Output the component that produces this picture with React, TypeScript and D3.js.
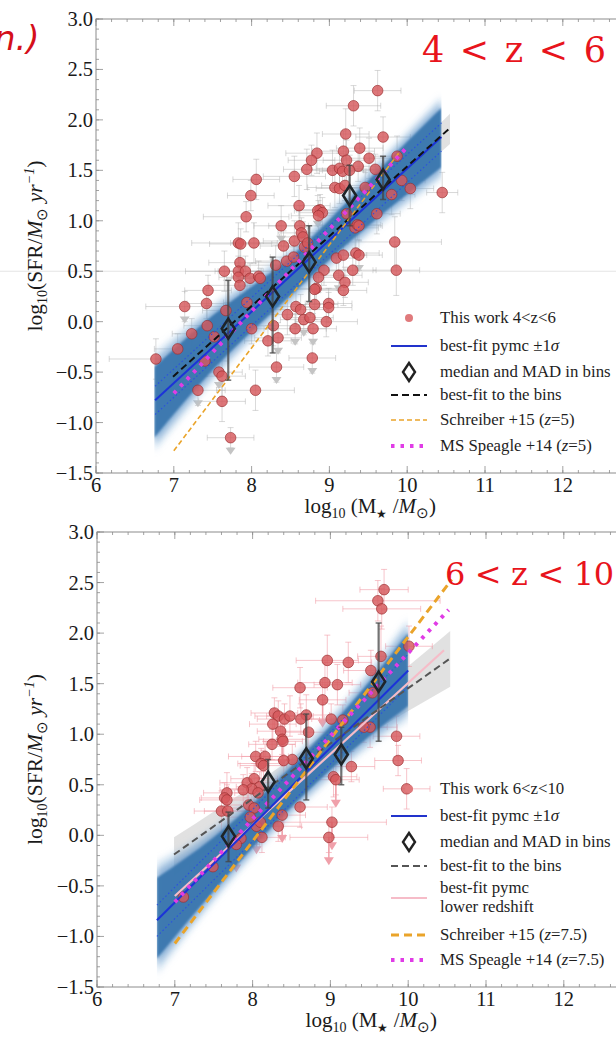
import React from 'react';
import * as d3 from 'd3';

// ---------- data ----------
// points: [log M*, log SFR, x-error, y-error, upper-limit flag]
const topPoints: number[][] = [
  [8.06, 1.41, 0.3, 0.2, 0], [7.99, 1.25, 0.3, 0.15, 0], [7.93, 1.04, 0.55, 0.15, 0], [7.83, 0.78, 0.6, 0.2, 0],
  [7.86, 0.77, 0.4, 0.15, 0], [8.03, 0.78, 0.3, 0.2, 0], [7.85, 0.585, 0.4, 0.15, 0], [7.65, 0.5, 0.5, 0.2, 0],
  [7.83, 0.5, 0.3, 0.15, 0], [7.92, 0.5, 0.35, 0.15, 0], [7.83, 0.44, 0.25, 0.1, 0], [7.98, 0.43, 0.3, 0.15, 0],
  [8.09, 0.45, 0.35, 0.15, 0], [8.11, 0.43, 0.3, 0.1, 0], [7.85, 0.36, 0.4, 0.2, 0], [7.44, 0.31, 0.3, 0.15, 0],
  [7.42, 0.18, 0.25, 0.15, 0], [7.14, 0.15, 0.5, 0.15, 1], [7.94, 0.19, 0.3, 0.2, 0], [7.67, 0.11, 0.3, 0.3, 0],
  [7.43, -0.04, 0.3, 0.2, 0], [7.23, -0.12, 0.25, 0.15, 0], [7.52, -0.15, 0.3, 0.15, 0], [8.0, -0.07, 0.3, 0.15, 0],
  [7.05, -0.27, 0.3, 0.15, 0], [6.77, -0.37, 0.6, 0.2, 0], [7.4, -0.39, 0.3, 0.15, 0], [7.58, -0.5, 0.3, 0.15, 1],
  [7.62, -0.54, 0.3, 0.2, 0], [7.31, -0.68, 0.35, 0.15, 1], [7.62, -0.79, 0.3, 0.2, 0], [8.05, -0.68, 0.5, 0.2, 0],
  [7.73, -1.15, 0.3, 0.1, 1], [8.31, 0.56, 0.4, 0.2, 0], [8.45, 0.6, 0.4, 0.15, 0], [8.54, 0.64, 0.3, 0.15, 0],
  [8.55, 1.44, 0.4, 0.2, 0], [8.71, 1.51, 0.3, 0.2, 0], [8.61, 1.15, 0.4, 0.2, 0], [8.38, 0.95, 0.35, 0.2, 1],
  [8.62, 0.95, 0.4, 0.2, 0], [8.41, 0.75, 0.3, 0.15, 0], [8.55, 0.8, 0.4, 0.2, 0], [8.64, 0.88, 0.3, 0.15, 0],
  [8.66, 0.84, 0.3, 0.15, 0], [8.68, 0.74, 0.3, 0.15, 0], [8.57, 0.15, 0.3, 0.2, 0], [8.63, 0.12, 0.35, 0.15, 0],
  [8.46, 0.07, 0.3, 0.2, 0], [8.67, 0.02, 0.3, 0.15, 1], [8.56, -0.07, 0.4, 0.15, 1], [8.28, -0.04, 0.3, 0.2, 0],
  [8.21, -0.19, 0.3, 0.15, 0], [8.34, -0.16, 0.3, 0.15, 1], [8.32, -0.45, 0.35, 0.15, 1],
  [9.62, 2.29, 0.3, 0.2, 0], [9.31, 2.14, 0.35, 0.2, 0], [9.21, 1.86, 0.3, 0.25, 0], [9.69, 1.83, 0.35, 0.2, 0],
  [9.39, 1.72, 0.3, 0.2, 0], [9.18, 1.69, 0.4, 0.2, 0], [8.84, 1.67, 0.4, 0.2, 0], [8.77, 1.6, 0.3, 0.15, 0],
  [9.22, 1.6, 0.3, 0.2, 0], [9.51, 1.62, 0.35, 0.2, 0], [9.37, 1.54, 0.3, 0.15, 0], [9.04, 1.5, 0.4, 0.2, 0],
  [9.13, 1.52, 0.3, 0.15, 0], [9.17, 1.49, 0.3, 0.15, 0], [9.26, 1.5, 0.35, 0.15, 0], [9.87, 1.64, 0.3, 0.2, 0],
  [9.93, 1.4, 0.3, 0.2, 0], [9.07, 1.33, 0.35, 0.2, 0], [9.13, 1.32, 0.3, 0.15, 0], [9.2, 1.35, 0.3, 0.15, 0],
  [10.04, 1.32, 0.3, 0.2, 0], [10.45, 1.28, 0.2, 0.2, 0], [9.8, 1.26, 0.3, 0.2, 0], [8.88, 1.11, 0.3, 0.15, 0],
  [8.85, 1.1, 0.3, 0.15, 1], [8.91, 1.08, 0.3, 0.15, 0], [8.86, 1.05, 0.35, 0.15, 0], [9.61, 1.07, 0.3, 0.2, 0],
  [9.33, 0.93, 0.3, 0.2, 0], [9.36, 0.96, 0.3, 0.15, 0], [9.38, 0.95, 0.3, 0.15, 0], [8.72, 0.78, 0.3, 0.15, 0],
  [9.84, 0.79, 0.6, 0.25, 0], [9.09, 0.63, 0.3, 0.15, 0], [9.18, 0.66, 0.3, 0.15, 0], [9.34, 0.68, 0.3, 0.2, 0],
  [9.38, 0.66, 0.3, 0.15, 1], [8.93, 0.51, 0.3, 0.15, 0], [9.3, 0.51, 0.3, 0.15, 0], [9.86, 0.51, 0.3, 0.25, 0],
  [9.12, 0.46, 0.3, 0.15, 1], [8.86, 0.44, 0.3, 0.15, 0], [9.2, 0.39, 0.3, 0.15, 0], [9.18, 0.31, 0.3, 0.15, 0],
  [8.83, 0.33, 0.3, 0.15, 0], [8.81, 0.32, 0.3, 0.15, 0], [8.99, 0.18, 0.3, 0.15, 0], [8.99, 0.14, 0.3, 0.15, 0],
  [8.81, 0.17, 0.3, 0.15, 0], [8.96, 0.0, 0.4, 0.15, 0], [8.75, 0.04, 0.3, 0.15, 0], [8.79, -0.07, 0.3, 0.15, 1],
  [8.78, -0.36, 0.3, 0.15, 1], [9.59, 1.51, 0.3, 0.15, 0], [9.46, 1.33, 0.3, 0.15, 0], [9.22, 1.07, 0.3, 0.15, 0],
];

const bottomPoints: number[][] = [
  [8.61, 1.46, 0.35, 0.2, 0], [8.28, 1.21, 0.3, 0.15, 0], [8.33, 1.18, 0.3, 0.15, 0], [8.41, 1.15, 0.35, 0.15, 0],
  [8.48, 1.18, 0.3, 0.2, 0], [8.69, 1.19, 0.3, 0.2, 0], [8.26, 1.1, 0.3, 0.15, 0], [8.36, 1.03, 0.3, 0.15, 0],
  [8.38, 0.95, 0.3, 0.15, 1], [8.39, 0.93, 0.25, 0.15, 0], [8.25, 0.9, 0.3, 0.15, 0], [8.04, 0.78, 0.35, 0.15, 0],
  [8.16, 0.78, 0.3, 0.15, 0], [8.11, 0.71, 0.3, 0.15, 0], [8.14, 0.69, 0.3, 0.15, 0], [7.93, 0.52, 0.35, 0.15, 0],
  [8.02, 0.56, 0.3, 0.15, 0], [8.09, 0.48, 0.3, 0.15, 0], [7.99, 0.46, 0.3, 0.15, 0], [7.88, 0.45, 0.3, 0.15, 0],
  [8.07, 0.42, 0.3, 0.15, 0], [7.67, 0.42, 0.3, 0.2, 0], [7.64, 0.37, 0.3, 0.15, 0], [7.67, 0.35, 0.35, 0.15, 0],
  [7.6, 0.24, 0.35, 0.2, 0], [7.68, 0.24, 0.3, 0.15, 0], [7.95, 0.3, 0.3, 0.15, 0], [8.02, 0.27, 0.3, 0.15, 0],
  [8.05, 0.09, 0.3, 0.15, 1], [8.1, 0.13, 0.3, 0.15, 0], [7.97, 0.18, 0.3, 0.15, 0], [7.85, -0.03, 0.3, 0.2, 0],
  [7.79, -0.09, 0.3, 0.15, 1], [7.49, -0.31, 0.3, 0.15, 0], [7.11, -0.61, 0.3, 0.15, 0], [8.61, 0.28, 0.35, 0.2, 0],
  [8.38, 0.2, 0.3, 0.2, 1], [8.51, 0.75, 0.3, 0.15, 1], [8.33, 0.09, 0.3, 0.15, 0], [8.4, 0.74, 0.3, 0.15, 0],
  [8.12, -0.02, 0.3, 0.15, 0],
  [9.69, 2.43, 0.31, 0.2, 0], [9.61, 2.32, 0.8, 0.2, 0], [9.66, 2.24, 0.5, 0.2, 0], [9.65, 1.77, 0.3, 0.3, 0],
  [10.01, 1.87, 0.3, 0.2, 0], [9.52, 1.63, 0.35, 0.2, 0], [8.96, 1.73, 0.4, 0.25, 0], [9.23, 1.71, 0.3, 0.2, 0],
  [8.93, 1.51, 0.35, 0.2, 0], [9.09, 1.49, 0.3, 0.2, 0], [8.9, 1.34, 0.3, 0.2, 1], [9.01, 1.15, 0.35, 0.15, 0],
  [9.16, 1.14, 0.3, 0.15, 0], [8.62, 1.15, 0.3, 0.15, 0], [8.72, 1.02, 0.3, 0.15, 0], [9.51, 1.07, 0.35, 0.2, 0],
  [9.43, 1.07, 0.3, 0.15, 0], [9.85, 0.98, 0.3, 0.2, 0], [9.87, 0.74, 0.3, 0.15, 0], [9.27, 0.68, 0.3, 0.15, 0],
  [9.04, 0.58, 0.3, 0.2, 0], [9.07, 0.55, 0.3, 0.15, 1], [9.98, 0.46, 0.3, 0.2, 0], [9.02, 0.13, 0.7, 0.15, 1],
  [8.98, -0.02, 0.5, 0.15, 1], [9.54, 1.41, 0.3, 0.2, 0],
];

// median and MAD in bins: [x, median, low, high]
const topBins: number[][] = [
  [7.7, -0.07, -0.58, 0.41], [8.27, 0.25, -0.31, 0.64], [8.74, 0.59, 0.2, 0.95], [9.26, 1.25, 0.95, 1.55], [9.69, 1.41, 1.21, 1.64],
];
const bottomBins: number[][] = [
  [7.69, -0.01, -0.26, 0.23], [8.2, 0.53, 0.27, 0.75], [8.69, 0.76, 0.35, 1.2], [9.14, 0.8, 0.5, 1.07], [9.62, 1.52, 0.93, 2.1],
];

// straight relations: [[x0, y0], [x1, y1]]
const topFit = [[6.76, -0.78], [10.44, 1.83]];
const topFitUpper = [[6.76, -0.64], [10.44, 1.97]];
const topFitLower = [[6.76, -0.92], [10.44, 1.69]];
const topBinFit = [[6.99, -0.545], [10.55, 1.92]];
const topSchreiber = [[7.0, -1.28], [9.9, 1.68]];
const topSpeagle = [[7.0, -0.71], [10.0, 1.73]];

const bottomFit = [[6.77, -0.84], [10.0, 1.63]];
const bottomFitUpper = [[6.77, -0.69], [10.0, 1.79]];
const bottomFitLower = [[6.77, -1.0], [10.0, 1.47]];
const bottomBinFit = [[6.99, -0.19], [10.54, 1.75]];
const bottomLowerZ = [[7.0, -0.6], [10.46, 1.83]];
const bottomSchreiber = [[7.0, -1.07], [10.56, 2.53]];
const bottomSpeagle = [[7.0, -0.66], [10.52, 2.23]];

// posterior bands
const topBandX = [6.75, 7.5, 8.5, 9.5, 10.44];
const topBandLo = [-1.15, -0.48, 0.26, 0.95, 1.53];
const topBandHi = [-0.45, 0.06, 0.64, 1.4, 2.12];
const topBinBandX = [6.99, 8.5, 10.55];
const topBinBandLo = [-0.7, 0.36, 1.76];
const topBinBandHi = [-0.4, 0.56, 2.06];

const bottomBandX = [6.77, 7.5, 8.5, 9.5, 10.0];
const bottomBandLo = [-1.22, -0.55, 0.28, 0.98, 1.28];
const bottomBandHi = [-0.42, -0.02, 0.68, 1.52, 2.0];
const bottomBinBandX = [6.99, 8.5, 10.54];
const bottomBinBandLo = [-0.4, 0.5, 1.47];
const bottomBinBandHi = [-0.02, 0.76, 2.02];

const yTickValues = [-1.5, -1.0, -0.5, 0.0, 0.5, 1.0, 1.5, 2.0, 2.5, 3.0];
const xTickValues = [6, 7, 8, 9, 10, 11, 12, 13];
const xTickLabels = ['6', '7', '8', '9', '10', '11', '12', ''];

// ---------- drawing ----------
const SERIF = '"Liberation Serif", "Times New Roman", serif';

type Cfg = {
  id: string;
  top: number;
  bottom: number;
  left: number;
  points: number[][];
  bins: number[][];
  fit: number[][];
  fitU: number[][];
  fitL: number[][];
  binFit: number[][];
  lowerZ?: number[][];
  schreiber: number[][];
  speagle: number[][];
  bandX: number[];
  bandLo: number[];
  bandHi: number[];
  binBandX: number[];
  binBandLo: number[];
  binBandHi: number[];
  errColor: string;
  binLineColor: string;
  schWidth: number;
  schDash: string;
  zLabel: string;
  zX: number;
  zY: number;
  zLen: number;
  zSize: number;
  legendY: number[];
  legendName: string;
  schName: string;
  spName: string;
};

function Panel({ c }: { c: Cfg }) {
  const x = d3.scaleLinear().domain([6, 13]).range([c.left, c.left + 7 * 77.8]);
  const y = d3.scaleLinear().domain([-1.5, 3]).range([c.bottom, c.top]);
  const x0 = x(6), x1 = x(13), y0 = y(-1.5), y1 = y(3);
  const seg = (p: number[][]) => ({ x1: x(p[0][0]), y1: y(p[0][1]), x2: x(p[1][0]), y2: y(p[1][1]) });

  const bandArea = (f: number) =>
    d3.area<number>()
      .x((_, i) => x(c.bandX[i]))
      .y0((_, i) => y((c.bandLo[i] + c.bandHi[i]) / 2 - ((c.bandHi[i] - c.bandLo[i]) / 2) * f))
      .y1((_, i) => y((c.bandLo[i] + c.bandHi[i]) / 2 + ((c.bandHi[i] - c.bandLo[i]) / 2) * f))
      .curve(d3.curveMonotoneX)(c.bandX) || '';
  const binBand = d3.area<number>()
    .x((_, i) => x(c.binBandX[i]))
    .y0((_, i) => y(c.binBandLo[i]))
    .y1((_, i) => y(c.binBandHi[i]))
    .curve(d3.curveMonotoneX)(c.binBandX) || '';

  const yMinor = d3.range(-15, 31, 1).map((v) => v / 10);
  const xMinor = d3.range(30, 66, 1).map((v) => v / 5);
  const fmt = d3.format('.1f');
  const bx0 = x(c.bandX[0]), bx1 = x(c.bandX[c.bandX.length - 1]);
  const L = c.legendY;
  const lx0 = 391, lx1 = 427, lcx = 409, ltx = 440;
  const isTop = c.id === 'top';

  return (
    <g>
      <defs>
        <clipPath id={`plot-${c.id}`}>
          <rect x={x0} y={y1} width={x1 - x0} height={y0 - y1} />
        </clipPath>
        <clipPath id={`band-${c.id}`}>
          <rect x={bx0} y={y1} width={bx1 - bx0} height={y0 - y1} />
        </clipPath>
        <filter id={`blur-${c.id}`} x="-20%" y="-20%" width="140%" height="140%">
          <feGaussianBlur stdDeviation="3" />
        </filter>
        <filter id={`blur2-${c.id}`} x="-20%" y="-20%" width="140%" height="140%">
          <feGaussianBlur stdDeviation="1" />
        </filter>
      </defs>

      {isTop && <line x1={0} x2={616} y1={y(0.5)} y2={y(0.5)} stroke="#e4e4e4" strokeWidth={1} />}

      <g clipPath={`url(#plot-${c.id})`}>
        <path d={binBand} fill="#c8c8c8" fillOpacity={0.55} />
        <g stroke={c.errColor} strokeWidth={1} fill="none">
          {c.points.map((p, i) => (
            <g key={i}>
              <line x1={x(p[0] - p[2])} x2={x(p[0] + p[2])} y1={y(p[1])} y2={y(p[1])} />
              <line x1={x(p[0])} x2={x(p[0])} y1={y(p[1] - p[3])} y2={y(p[1] + p[3])} />
              <line x1={x(p[0] - p[2])} x2={x(p[0] - p[2])} y1={y(p[1]) - 3} y2={y(p[1]) + 3} />
              <line x1={x(p[0] + p[2])} x2={x(p[0] + p[2])} y1={y(p[1]) - 3} y2={y(p[1]) + 3} />
              <line x1={x(p[0]) - 3} x2={x(p[0]) + 3} y1={y(p[1] - p[3])} y2={y(p[1] - p[3])} />
              <line x1={x(p[0]) - 3} x2={x(p[0]) + 3} y1={y(p[1] + p[3])} y2={y(p[1] + p[3])} />
            </g>
          ))}
        </g>
        {c.points.filter((p) => p[4] === 1).map((p, i) => {
          const px = x(p[0]), py = y(p[1]);
          return isTop ? (
            <path key={i} d={`M${px - 5},${py + 10}L${px + 5},${py + 10}L${px},${py + 17}Z`} fill="#c4c4c4" />
          ) : (
            <g key={i} stroke="#f0a0aa" fill="#f0a0aa">
              <line x1={px} x2={px} y1={py} y2={py + 24} strokeWidth={1.5} />
              <path d={`M${px - 5},${py + 20}L${px + 5},${py + 20}L${px},${py + 28}Z`} stroke="none" />
            </g>
          );
        })}
        <g clipPath={`url(#band-${c.id})`}>
          <path d={bandArea(1.4)} fill="#9cc0e0" fillOpacity={0.4} filter={`url(#blur-${c.id})`} />
          <path d={bandArea(1.18)} fill="#5a90c4" fillOpacity={0.6} filter={`url(#blur-${c.id})`} />
          <path d={bandArea(1.0)} fill="#3a76ae" fillOpacity={0.95} filter={`url(#blur2-${c.id})`} />
        </g>
        {c.points.map((p, i) => (
          <circle key={i} cx={x(p[0])} cy={y(p[1])} r={5.3} fill="#d6585c" fillOpacity={0.82}
            stroke="#9a2e30" strokeOpacity={0.75} strokeWidth={0.9} />
        ))}
        <line {...seg(c.fitU)} stroke="#2a4fe0" strokeWidth={1.1} strokeDasharray="1.5,2.5" />
        <line {...seg(c.fitL)} stroke="#2a4fe0" strokeWidth={1.1} strokeDasharray="1.5,2.5" />
        {c.lowerZ && <line {...seg(c.lowerZ)} stroke="#f6bcc8" strokeWidth={2.2} />}
        <line {...seg(c.fit)} stroke="#1c33d8" strokeWidth={2} />
        <line {...seg(c.binFit)} stroke={c.binLineColor} strokeWidth={2} strokeDasharray="7,4" />
        <line {...seg(c.schreiber)} stroke="#eaa42a" strokeWidth={c.schWidth} strokeDasharray={c.schDash} />
        <line {...seg(c.speagle)} stroke="#e03ce6" strokeWidth={4} strokeDasharray="3.5,6" />
        {c.bins.map((b, i) => (
          <g key={i}>
            <line x1={x(b[0])} x2={x(b[0])} y1={y(b[2])} y2={y(b[3])} stroke="#444" strokeOpacity={0.75} strokeWidth={2.2} />
            <line x1={x(b[0]) - 3} x2={x(b[0]) + 3} y1={y(b[2])} y2={y(b[2])} stroke="#444" strokeOpacity={0.75} strokeWidth={1.5} />
            <line x1={x(b[0]) - 3} x2={x(b[0]) + 3} y1={y(b[3])} y2={y(b[3])} stroke="#444" strokeOpacity={0.75} strokeWidth={1.5} />
            <path d={`M${x(b[0])},${y(b[1]) - 10}L${x(b[0]) + 6.5},${y(b[1])}L${x(b[0])},${y(b[1]) + 10}L${x(b[0]) - 6.5},${y(b[1])}Z`}
              fill="none" stroke="#1e2428" strokeWidth={2.6} strokeLinejoin="miter" />
          </g>
        ))}
      </g>

      <rect x={x0} y={y1} width={x1 - x0} height={y0 - y1} fill="none" stroke="#8c8c8c" strokeWidth={1} />
      <g stroke="#8c8c8c" strokeWidth={0.8}>
        {yMinor.map((v, i) => (
          <line key={'ym' + i} x1={x0} x2={x0 + 3} y1={y(v)} y2={y(v)} />
        ))}
        {yTickValues.map((v, i) => (
          <line key={'yM' + i} x1={x0} x2={x0 + 7} y1={y(v)} y2={y(v)} />
        ))}
        {xMinor.map((v, i) => (
          <g key={'xm' + i}>
            <line x1={x(v)} x2={x(v)} y1={y0} y2={y0 - 3} />
            <line x1={x(v)} x2={x(v)} y1={y1} y2={y1 + 3} />
          </g>
        ))}
        {xTickValues.map((v, i) => (
          <g key={'xM' + i}>
            <line x1={x(v)} x2={x(v)} y1={y0} y2={y0 - 7} />
            <line x1={x(v)} x2={x(v)} y1={y1} y2={y1 + 7} />
          </g>
        ))}
      </g>
      <g fontFamily={SERIF} fontSize={20.5} fill="#1a1a1a">
        {yTickValues.map((v, i) => (
          <text key={'yl' + i} x={x0 - 3} y={y(v) + 7} textAnchor="end">{fmt(v)}</text>
        ))}
        {xTickValues.map((v, i) => xTickLabels[i] ? (
          <text key={'xl' + i} x={x(v)} y={y0 + 19} textAnchor="middle">{xTickLabels[i]}</text>
        ) : null)}
        <text x={(x0 + x1) / 2 + 2} y={y0 + 40} textAnchor="middle" fontSize={21}>
          log<tspan fontSize={14} dy={5}>10</tspan>
          <tspan dy={-5}> (M</tspan><tspan fontSize={12} dy={5}>★</tspan>
          <tspan dy={-5}> /</tspan><tspan fontStyle="italic">M</tspan>
          <tspan fontSize={15} dy={5}>⊙</tspan><tspan dy={-5}>)</tspan>
        </text>
        <text transform={`translate(42,${(y0 + y1) / 2}) rotate(-90)`} textAnchor="middle" fontSize={21.5}>
          log<tspan fontSize={14} dy={5}>10</tspan>
          <tspan dy={-5}>(SFR/</tspan><tspan fontStyle="italic">M</tspan>
          <tspan fontSize={15} dy={5}>⊙</tspan>
          <tspan dy={-5} fontStyle="italic"> yr</tspan>
          <tspan fontSize={14} dy={-8} fontStyle="italic">−1</tspan>
          <tspan dy={8}>)</tspan>
        </text>
      </g>

      <text x={c.zX} y={c.zY} fontFamily='"DejaVu Serif", serif' fontSize={c.zSize} fill="#e8141c"
        xmlSpace="preserve" textLength={c.zLen} lengthAdjust="spacing">
        {c.zLabel}
      </text>

      <g fontFamily={SERIF} fontSize={16.8} fill="#1e1e1e">
        <circle cx={lcx} cy={L[0]} r={4} fill="#e07a7c" />
        <text x={ltx} y={L[0] + 5}>{c.legendName}</text>
        <line x1={lx0} x2={lx1} y1={L[1]} y2={L[1]} stroke="#2233cc" strokeWidth={2.2} />
        <text x={ltx} y={L[1] + 5}>best-fit pymc ±1<tspan fontStyle="italic">σ</tspan></text>
        <path d={`M${lcx},${L[2] - 9}L${lcx + 6},${L[2]}L${lcx},${L[2] + 9}L${lcx - 6},${L[2]}Z`} fill="none" stroke="#222" strokeWidth={2.4} />
        <text x={ltx} y={L[2] + 5}>median and MAD in bins</text>
        <line x1={lx0} x2={lx1} y1={L[3]} y2={L[3]} stroke={c.binLineColor} strokeWidth={2} strokeDasharray="7,4" />
        <text x={ltx} y={L[3] + 5}>best-fit to the bins</text>
        {c.lowerZ ? (
          <g>
            <line x1={lx0} x2={lx1} y1={L[4]} y2={L[4]} stroke="#f6bcc8" strokeWidth={2.2} />
            <text x={ltx} y={L[4] - 5}>best-fit pymc</text>
            <text x={ltx} y={L[4] + 14}>lower redshift</text>
          </g>
        ) : null}
        <line x1={lx0} x2={lx1} y1={L[5]} y2={L[5]} stroke="#eaa42a" strokeWidth={c.schWidth} strokeDasharray={c.schDash} />
        <text x={ltx} y={L[5] + 5}>Schreiber +15 (<tspan fontStyle="italic">z</tspan>{c.schName})</text>
        <line x1={lx0} x2={lx1} y1={L[6]} y2={L[6]} stroke="#e03ce6" strokeWidth={4} strokeDasharray="3.5,6" />
        <text x={ltx} y={L[6] + 5}>MS Speagle +14 (<tspan fontStyle="italic">z</tspan>{c.spName})</text>
      </g>
    </g>
  );
}

const topCfg: Cfg = {
  id: 'top', top: 19, bottom: 473, left: 96,
  points: topPoints, bins: topBins, fit: topFit, fitU: topFitUpper, fitL: topFitLower,
  binFit: topBinFit, schreiber: topSchreiber, speagle: topSpeagle,
  bandX: topBandX, bandLo: topBandLo, bandHi: topBandHi,
  binBandX: topBinBandX, binBandLo: topBinBandLo, binBandHi: topBinBandHi,
  errColor: 'rgba(170,170,170,0.45)', binLineColor: '#111', schWidth: 1.6, schDash: '5,3',
  zLabel: '4 < z < 6', zX: 422, zY: 62, zLen: 184, zSize: 35,
  legendY: [318, 346, 372, 395, 0, 420, 446],
  legendName: 'This work 4<z<6', schName: '=5', spName: '=5',
};

const bottomCfg: Cfg = {
  id: 'bot', top: 532, bottom: 987, left: 97,
  points: bottomPoints, bins: bottomBins, fit: bottomFit, fitU: bottomFitUpper, fitL: bottomFitLower,
  binFit: bottomBinFit, lowerZ: bottomLowerZ, schreiber: bottomSchreiber, speagle: bottomSpeagle,
  bandX: bottomBandX, bandLo: bottomBandLo, bandHi: bottomBandHi,
  binBandX: bottomBinBandX, binBandLo: bottomBinBandLo, binBandHi: bottomBinBandHi,
  errColor: 'rgba(240,150,160,0.55)', binLineColor: '#555', schWidth: 3, schDash: '8,5',
  zLabel: '6 < z < 10', zX: 445, zY: 585, zLen: 169, zSize: 32,
  legendY: [789, 816, 842, 866, 898, 935, 960],
  legendName: 'This work 6<z<10', schName: '=7.5', spName: '=7.5',
};

export default function App() {
  return (
    <svg width={616} height={1037} style={{ position: 'absolute', left: 0, top: 0, background: '#fff' }}>
      <rect x={0} y={0} width={616} height={1037} fill="#fff" />
      <text x={-6} y={50} fontFamily='"DejaVu Sans", sans-serif' fontStyle="italic" fontSize={34} fill="#d40f1a">n.)</text>
      <Panel c={topCfg} />
      <Panel c={bottomCfg} />
    </svg>
  );
}
